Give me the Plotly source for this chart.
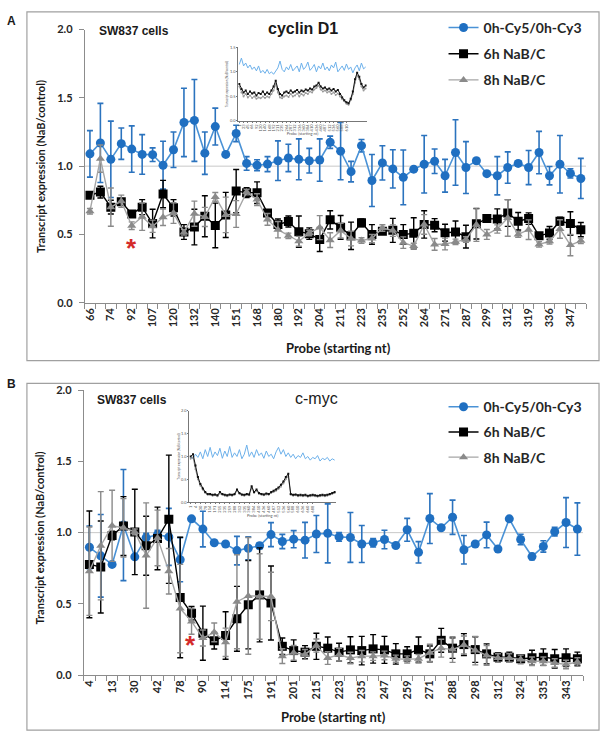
import plotly.graph_objects as go

W, H = 604, 742
def px(x): return x / W
def py(y): return 1 - y / H

# ---------------- Panel A: cyclin D1 ----------------
a_labels = ["66", "74", "92", "107", "120", "132", "140", "151", "168", "180", "192", "204",
            "211", "223", "235", "252", "264", "271", "287", "299", "312", "319", "336", "347"]
a_blue = [1.09, 1.17, 1.05, 1.165, 1.125, 1.086, 1.084, 1.007, 1.12, 1.32, 1.335, 1.095,
          1.29, 1.086, 1.24, 1.02, 1.007, 1.015, 1.04, 1.06, 1.05, 1.04, 1.045, 1.175,
          1.11, 0.96, 1.15, 0.895, 1.024, 0.98, 0.918, 0.978, 1.014, 1.036, 0.93, 1.10,
          0.99, 1.04, 0.945, 0.93, 0.99, 1.02, 0.99, 1.10, 0.93, 1.014, 0.947, 0.91]
a_blue_err = [0.17, 0.29, 0.28, 0.115, 0.17, 0.145, 0.05, 0.175, 0.13, 0.25, 0.30, 0.155,
              0.135, 0.0, 0.06, 0.05, 0.04, 0.055, 0.145, 0.10, 0.15, 0.09, 0.155, 0.045,
              0.21, 0.075, 0.045, 0.19, 0.125, 0.14, 0.20, 0.0, 0.21, 0.09, 0.12, 0.24,
              0.19, 0.0, 0.0, 0.14, 0.115, 0.02, 0.125, 0.155, 0.067, 0.21, 0.034, 0.147]
a_black = [0.787, 0.81, 0.70, 0.74, 0.65, 0.70, 0.58, 0.796, 0.695, 0.518, 0.554, 0.633,
           0.566, 0.643, 0.818, 0.806, 0.806, 0.657, 0.573, 0.595, 0.52, 0.506, 0.463, 0.607,
           0.552, 0.49, 0.585, 0.50, 0.523, 0.53, 0.50, 0.508, 0.573, 0.568, 0.513, 0.518,
           0.484, 0.578, 0.616, 0.614, 0.657, 0.597, 0.616, 0.49, 0.51, 0.597, 0.58, 0.535]
a_black_err = [0.02, 0.043, 0.05, 0.02, 0.02, 0.055, 0.105, 0.10, 0.06, 0.054, 0.13, 0.15,
               0.163, 0.165, 0.158, 0.036, 0.079, 0.02, 0.04, 0.04, 0.115, 0.042, 0.088, 0.067,
               0.087, 0.10, 0.029, 0.072, 0.02, 0.088, 0.072, 0.114, 0.10, 0.048, 0.062, 0.08,
               0.083, 0.111, 0.02, 0.073, 0.098, 0.064, 0.042, 0.02, 0.048, 0.029, 0.086, 0.052]
a_grey = [0.67, 1.055, 0.70, 0.743, 0.564, 0.63, 0.56, 0.626, 0.657, 0.515, 0.652, 0.628,
          0.775, 0.643, 0.65, 0.81, 0.755, 0.61, 0.535, 0.49, 0.45, 0.51, 0.55, 0.458,
          0.528, 0.47, 0.456, 0.47, 0.547, 0.528, 0.44, 0.415, 0.573, 0.427, 0.43, 0.446,
          0.463, 0.571, 0.50, 0.54, 0.621, 0.50, 0.535, 0.427, 0.45, 0.54, 0.422, 0.453]
a_grey_err = [0.02, 0.10, 0.14, 0.045, 0.028, 0.10, 0.045, 0.06, 0.076, 0.02, 0.092, 0.07,
              0.032, 0.13, 0.098, 0.02, 0.043, 0.043, 0.06, 0.02, 0.036, 0.02, 0.088, 0.054,
              0.054, 0.054, 0.02, 0.03, 0.024, 0.042, 0.042, 0.02, 0.072, 0.043, 0.043, 0.02,
              0.02, 0.122, 0.036, 0.03, 0.134, 0.02, 0.072, 0.02, 0.02, 0.068, 0.078, 0.02]

# ---------------- Panel B: c-myc ----------------
b_labels = ["4", "13", "30", "42", "78", "90", "114", "175", "191", "201", "215", "223",
            "235", "247", "259", "271", "288", "298", "312", "324", "335", "343"]
b_blue = [0.897, 0.837, 0.777, 1.053, 0.83, 0.965, 0.986, 0.97, 0.81, 1.097, 1.025, 0.929,
          0.92, 0.874, 0.89, 0.908, 0.986, 0.938, 0.954, 0.947, 0.99, 0.995, 0.97, 0.966,
          0.92, 0.929, 0.952, 0.91, 1.02, 0.862, 1.099, 1.034, 1.108, 0.88, 0.92, 0.984,
          0.885, 1.097, 0.952, 0.832, 0.903, 1.007, 1.071, 1.025]
b_blue_err = [0.15, 0.29, 0.0, 0.39, 0.0, 0.03, 0.03, 0.20, 0.155, 0.0, 0.125, 0.0,
              0.0, 0.10, 0.08, 0.02, 0.084, 0.05, 0.06, 0.125, 0.13, 0.207, 0.03, 0.175,
              0.13, 0.03, 0.065, 0.0, 0.08, 0.075, 0.175, 0.0, 0.12, 0.10, 0.0, 0.09,
              0.0, 0.0, 0.037, 0.022, 0.04, 0.03, 0.175, 0.184]
b_black = [0.777, 0.759, 0.98, 1.046, 1.005, 0.908, 0.959, 1.094, 0.545, 0.434, 0.294, 0.241,
           0.278, 0.395, 0.494, 0.563, 0.506, 0.202, 0.172, 0.161, 0.202, 0.189, 0.161, 0.177,
           0.172, 0.184, 0.177, 0.149, 0.149, 0.179, 0.149, 0.244, 0.189, 0.214, 0.179, 0.149,
           0.126, 0.126, 0.115, 0.122, 0.126, 0.115, 0.122, 0.115]
b_black_err = [0.375, 0.323, 0.03, 0.207, 0.30, 0.207, 0.22, 0.45, 0.423, 0.047, 0.19, 0.058,
               0.167, 0.228, 0.31, 0.33, 0.26, 0.058, 0.075, 0.046, 0.092, 0.078, 0.063, 0.092,
               0.10, 0.10, 0.095, 0.072, 0.05, 0.088, 0.055, 0.084, 0.072, 0.077, 0.09, 0.07,
               0.03, 0.035, 0.025, 0.052, 0.058, 0.065, 0.062, 0.046]
b_grey = [0.729, 0.908, 1.048, 1.034, 1.005, 0.839, 0.963, 0.729, 0.467, 0.377, 0.26, 0.30,
          0.23, 0.515, 0.556, 0.552, 0.552, 0.133, 0.156, 0.145, 0.207, 0.12, 0.143, 0.12,
          0.133, 0.133, 0.138, 0.115, 0.11, 0.115, 0.156, 0.189, 0.179, 0.211, 0.172, 0.138,
          0.12, 0.12, 0.11, 0.097, 0.097, 0.085, 0.074, 0.092]
b_grey_err = [0.31, 0.38, 0.25, 0.205, 0.02, 0.37, 0.195, 0.16, 0.31, 0.09, 0.056, 0.066,
              0.10, 0.33, 0.41, 0.30, 0.17, 0.052, 0.052, 0.035, 0.046, 0.045, 0.045, 0.04,
              0.04, 0.03, 0.03, 0.025, 0.025, 0.03, 0.06, 0.063, 0.09, 0.063, 0.10, 0.07,
              0.03, 0.03, 0.03, 0.03, 0.03, 0.03, 0.03, 0.03]

# ---------------- Inset data (coarse readings of the thumbnails) ----------------
ia_blue = [1.15, 1.28, 1.12, 1.18, 1.08, 1.14, 1.05, 1.10, 1.02, 1.12, 0.98, 1.03, 0.97, 1.05, 0.96,
           1.00, 0.95, 1.02, 1.08, 1.22, 1.05, 1.00, 1.10, 1.04, 1.15, 1.02, 1.08, 1.12, 1.00, 1.18,
           1.05, 1.10, 1.20, 1.03, 1.08, 1.15, 1.00, 1.12, 1.06, 1.18, 1.04, 1.10, 1.02, 1.14, 1.08,
           1.20, 1.00, 1.06, 1.12, 1.03, 1.16, 1.05, 1.10, 0.98, 1.08, 1.14, 1.02, 1.18, 1.06, 1.10]
ia_black = [0.75, 0.65, 0.58, 0.62, 0.55, 0.60, 0.56, 0.58, 0.52, 0.57, 0.55, 0.60, 0.54, 0.58, 0.55,
            0.62, 0.70, 0.82, 0.65, 0.55, 0.52, 0.58, 0.60, 0.57, 0.62, 0.58, 0.60, 0.63, 0.58, 0.62,
            0.60, 0.64, 0.62, 0.66, 0.64, 0.70, 0.72, 0.78, 0.70, 0.66, 0.68, 0.64, 0.66, 0.62, 0.65,
            0.60, 0.63, 0.55, 0.48, 0.42, 0.38, 0.36, 0.45, 0.60, 0.85, 0.98, 0.90, 0.75, 0.68, 0.72]
ia_grey = [0.70, 0.58, 0.50, 0.55, 0.48, 0.52, 0.47, 0.50, 0.45, 0.48, 0.46, 0.50, 0.47, 0.50, 0.48,
           0.55, 0.62, 0.75, 0.58, 0.48, 0.46, 0.50, 0.52, 0.49, 0.55, 0.50, 0.52, 0.56, 0.50, 0.55,
           0.52, 0.57, 0.55, 0.60, 0.58, 0.64, 0.67, 0.72, 0.64, 0.60, 0.62, 0.58, 0.60, 0.55, 0.58,
           0.53, 0.56, 0.50, 0.44, 0.40, 0.35, 0.33, 0.42, 0.55, 0.78, 0.92, 0.85, 0.70, 0.62, 0.66]
ib_blue = [1.00, 0.95, 1.05, 0.98, 1.10, 0.95, 1.15, 1.00, 1.20, 0.98, 1.10, 1.02, 1.18, 0.96, 1.12,
           1.00, 1.22, 0.98, 1.08, 1.00, 1.15, 0.95, 1.05, 1.25, 1.00, 1.10, 0.98, 1.15, 1.02, 1.08,
           0.96, 1.12, 1.00, 1.05, 0.95, 1.10, 1.20, 1.05, 1.15, 1.00, 1.08, 0.98, 1.05, 0.95, 1.02,
           0.98, 1.08, 0.95, 1.00, 0.92, 0.98, 0.95, 1.02, 0.90, 0.96, 0.93, 0.98, 0.90, 0.95, 0.92]
ib_black = [1.00, 1.05, 0.80, 0.55, 0.40, 0.30, 0.22, 0.18, 0.18, 0.16, 0.17, 0.15, 0.22, 0.18, 0.16,
            0.15, 0.17, 0.16, 0.18, 0.28, 0.20, 0.17, 0.16, 0.18, 0.17, 0.35, 0.22, 0.28, 0.20, 0.18,
            0.17, 0.19, 0.18, 0.22, 0.25, 0.28, 0.32, 0.38, 0.45, 0.55, 0.62, 0.18, 0.16, 0.17, 0.15,
            0.16, 0.15, 0.16, 0.14, 0.15, 0.16, 0.15, 0.14, 0.15, 0.16, 0.15, 0.16, 0.18, 0.20, 0.22]
ib_grey = [0.95, 0.98, 0.72, 0.50, 0.36, 0.27, 0.20, 0.16, 0.16, 0.14, 0.15, 0.13, 0.19, 0.16, 0.14,
           0.13, 0.15, 0.14, 0.16, 0.25, 0.18, 0.15, 0.14, 0.16, 0.15, 0.31, 0.20, 0.25, 0.18, 0.16,
           0.15, 0.17, 0.16, 0.20, 0.22, 0.25, 0.29, 0.34, 0.41, 0.50, 0.57, 0.16, 0.14, 0.15, 0.13,
           0.14, 0.13, 0.14, 0.12, 0.13, 0.14, 0.13, 0.12, 0.13, 0.14, 0.13, 0.14, 0.16, 0.18, 0.20]
inset_a_ticks = ["1", "23", "45", "66", "92", "120", "140", "168", "192", "211", "235", "264", "287",
                 "312", "336", "360", "384", "410", "436", "460", "487", "512", "536", "560", "588", "610"]
inset_b_ticks = ["1", "4", "30", "78", "114", "191", "215", "235", "259", "288", "312", "335", "360",
                 "384", "410", "436", "460", "487", "512", "536", "560", "588", "610", "636", "660", "688"]

series_names = ["0h-Cy5/0h-Cy3", "6h NaB/C", "8h NaB/C"]

BLUE_M = "#1F6FC1"
BLUE_L = "#4A92D6"
BLACK = "#000000"
GREY = "#8A8A8A"
GREY_L = "#A6A6A6"
AXC = "#8C8C8C"
FONT = "Lato"

fig = go.Figure()

def add_panel(xa, ya, vals, legend):
    blue, blue_e, black, black_e, grey, grey_e = vals
    n = len(blue)
    xs = list(range(n))
    fig.add_trace(go.Scatter(
        x=xs, y=blue, mode="lines+markers", name=series_names[0], xaxis=xa, yaxis=ya,
        line=dict(color=BLUE_L, width=1.6), marker=dict(symbol="circle", size=9, color=BLUE_M),
        error_y=dict(type="data", array=blue_e, color="#2B73BE", thickness=1.6, width=3),
        legend=legend, legendgroup="g1"))
    fig.add_trace(go.Scatter(
        x=xs, y=black, mode="lines+markers", name=series_names[1], xaxis=xa, yaxis=ya,
        line=dict(color=BLACK, width=1.4), marker=dict(symbol="square", size=9, color=BLACK),
        error_y=dict(type="data", array=black_e, color=BLACK, thickness=1.4, width=3),
        legend=legend, legendgroup="g2"))
    fig.add_trace(go.Scatter(
        x=xs, y=grey, mode="lines+markers", name=series_names[2], xaxis=xa, yaxis=ya,
        line=dict(color=GREY_L, width=1.4), marker=dict(symbol="triangle-up", size=8, color=GREY),
        error_y=dict(type="data", array=grey_e, color=GREY, thickness=1.4, width=3),
        legend=legend, legendgroup="g3"))
    return n

nA = add_panel("x", "y", (a_blue, a_blue_err, a_black, a_black_err, a_grey, a_grey_err), "legend")
nB = add_panel("x2", "y2", (b_blue, b_blue_err, b_black, b_black_err, b_grey, b_grey_err), "legend2")

def add_inset(xa, ya, blue, black, grey):
    xs = list(range(len(blue)))
    fig.add_trace(go.Scatter(x=xs, y=blue, mode="lines", xaxis=xa, yaxis=ya, showlegend=False,
                             line=dict(color="#6CB0EA", width=1)))
    fig.add_trace(go.Scatter(x=xs, y=grey, mode="lines+markers", xaxis=xa, yaxis=ya, showlegend=False,
                             line=dict(color="#9A9A9A", width=1), marker=dict(size=2, color="#9A9A9A")))
    fig.add_trace(go.Scatter(x=xs, y=black, mode="lines+markers", xaxis=xa, yaxis=ya, showlegend=False,
                             line=dict(color="#111111", width=1), marker=dict(size=2, color="#111111", symbol="square")))
    return len(blue)

niA = add_inset("x3", "y3", ia_blue, ia_black, ia_grey)
niB = add_inset("x4", "y4", ib_blue, ib_black, ib_grey)

tickfont = dict(family=FONT, size=11, color="#262626", weight="bold")

def main_x(domain, n, labels, anchor):
    return dict(domain=domain, range=[-0.5, n - 0.5], anchor=anchor,
                tickmode="array", tickvals=list(range(0, n, 2))[:len(labels)], ticktext=labels,
                tickangle=-90, ticks="", showline=True, linecolor=AXC, linewidth=1,
                minor=dict(tickmode="array", tickvals=[i - 0.5 for i in range(n + 1)],
                           ticks="outside", ticklen=5, tickcolor=AXC, tickwidth=1),
                tickfont=tickfont, showgrid=False, zeroline=False)

def main_y(domain, anchor):
    return dict(domain=domain, range=[0, 2.0], anchor=anchor,
                tickmode="array", tickvals=[0, 0.5, 1.0, 1.5, 2.0],
                ticktext=["0.0", "0.5", "1.0", "1.5", "2.0"],
                ticks="outside", ticklen=5, tickcolor=AXC, showline=True, linecolor=AXC,
                linewidth=1, tickfont=tickfont, showgrid=False, zeroline=False,
                ticklabelstandoff=4)

def inset_x(domain, n, labels, anchor):
    step = max(1, n // len(labels))
    return dict(domain=domain, range=[-0.5, n - 0.5], anchor=anchor,
                tickmode="array", tickvals=[i * step for i in range(len(labels)) if i * step < n],
                ticktext=labels, tickangle=-90, ticks="outside", ticklen=1, tickcolor="#777",
                showline=True, linecolor="#777", linewidth=0.8,
                tickfont=dict(family=FONT, size=4, color="#555"),
                title=dict(text="Probe (starting nt)", font=dict(family=FONT, size=4, color="#555"), standoff=1),
                showgrid=False, zeroline=False)

def inset_y(domain, top, anchor):
    vals = [v * 0.5 for v in range(int(top / 0.5) + 1)]
    return dict(domain=domain, range=[0, top], anchor=anchor,
                tickmode="array", tickvals=vals, ticktext=["%.1f" % v for v in vals],
                ticks="outside", ticklen=1, tickcolor="#777", showline=True, linecolor="#777",
                linewidth=0.8, tickfont=dict(family=FONT, size=4, color="#555"),
                title=dict(text="Transcript expression (NaB/control)", font=dict(family=FONT, size=3, color="#555"), standoff=1),
                showgrid=False, zeroline=False)

fig.update_layout(
    width=W, height=H, margin=dict(l=0, r=0, t=0, b=0),
    paper_bgcolor="white", plot_bgcolor="rgba(0,0,0,0)",
    xaxis=main_x([px(83), px(586)], nA, a_labels, "y"),
    yaxis=main_y([py(301), py(23)], "x"),
    xaxis2=main_x([px(82), px(583)], nB, b_labels, "y2"),
    yaxis2=main_y([py(680), py(390)], "x2"),
    xaxis3=inset_x([px(237), px(366)], niA, inset_a_ticks, "y3"),
    yaxis3=inset_y([py(116), py(41)], 1.5, "x3"),
    xaxis4=inset_x([px(188), px(335)], niB, inset_b_ticks, "y4"),
    yaxis4=inset_y([py(504), py(411)], 2.0, "x4"),
    legend=dict(x=px(443), y=py(5), xanchor="left", yanchor="top", bgcolor="rgba(0,0,0,0)",
                font=dict(family=FONT, size=14, color="#262626", weight="bold"),
                tracegroupgap=5, itemwidth=30),
    legend2=dict(x=px(443), y=py(391), xanchor="left", yanchor="top", bgcolor="rgba(0,0,0,0)",
                 font=dict(family=FONT, size=14, color="#262626", weight="bold"),
                 tracegroupgap=4, itemwidth=30),
    showlegend=True,
)

shapes = []
# panel frames
for (y0, y1) in [(5, 360), (383, 736)]:
    shapes.append(dict(type="rect", xref="paper", yref="paper", x0=px(25), x1=px(599),
                       y0=py(y1), y1=py(y0), line=dict(color="#A0A0A0", width=1.2), layer="below"))
# reference line at 1.0
shapes.append(dict(type="line", xref="x", yref="y", x0=-0.5, x1=nA - 0.5, y0=1, y1=1,
                   line=dict(color="#C8C8C8", width=1), layer="below"))
shapes.append(dict(type="line", xref="x2", yref="y2", x0=-0.5, x1=nB - 0.5, y0=1, y1=1,
                   line=dict(color="#C8C8C8", width=1), layer="below"))
# inset white backgrounds
shapes.append(dict(type="rect", xref="paper", yref="paper", x0=px(222), x1=px(370), y0=py(138), y1=py(36),
                   fillcolor="white", line=dict(width=0), layer="below"))
shapes.append(dict(type="rect", xref="paper", yref="paper", x0=px(175), x1=px(340), y0=py(522), y1=py(406),
                   fillcolor="white", line=dict(width=0), layer="below"))
fig.update_layout(shapes=shapes)

ann = []
def txt(x, y, t, size, bold=True, color="#1a1a1a", family="Liberation Sans", angle=0, xanchor="center"):
    ann.append(dict(x=px(x), y=py(y), xref="paper", yref="paper", text=t, showarrow=False,
                    textangle=angle, xanchor=xanchor, yanchor="middle",
                    font=dict(family=family, size=size, color=color, weight="bold" if bold else "normal")))

txt(10, 14, "A", 12)
txt(10, 384, "B", 12)
txt(95, 24, "SW837 cells", 12, xanchor="left")
txt(93, 400, "SW837 cells", 12, xanchor="left")
txt(302, 22, "cyclin D1", 16)
txt(316, 398, "c-myc", 16, bold=False)
txt(38, 162, "Transcript expression (NaB/control)", 11, family=FONT, angle=-90)
txt(38, 540, "Transcript expression (NaB/control)", 11, family=FONT, angle=-90)
txt(338, 347, "Probe (starting nt)", 13, family=FONT)
txt(333, 723, "Probe (starting nt)", 13, family=FONT)
# asterisks marking the probes
ann.append(dict(x=4, y=0.40, xref="x", yref="y", text="*", showarrow=False,
                font=dict(family="Liberation Sans", size=26, color="#D42A2A", weight="bold")))
ann.append(dict(x=8.9, y=0.21, xref="x2", yref="y2", text="*", showarrow=False,
                font=dict(family="Liberation Sans", size=26, color="#D42A2A", weight="bold")))
fig.update_layout(annotations=ann)

fig.write_html("out.html", config={"displayModeBar": False},
               post_script="document.body.style.margin='0';document.body.style.overflow='hidden';")
